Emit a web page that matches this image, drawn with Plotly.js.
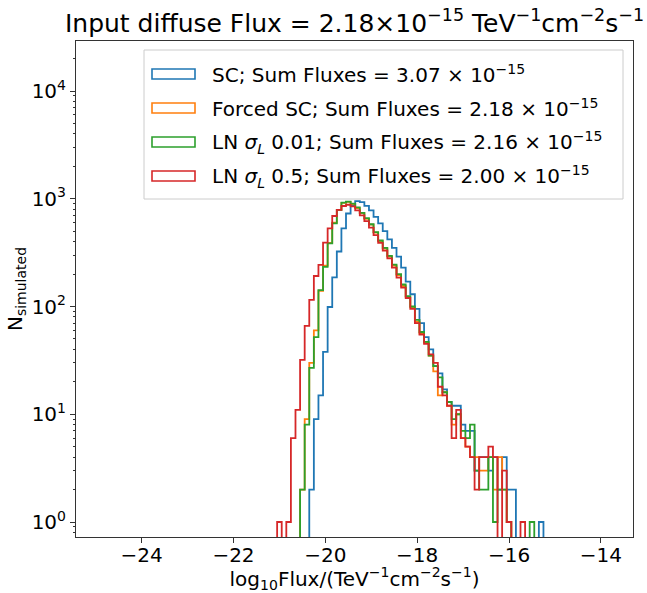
<!DOCTYPE html>
<html>
<head>
<meta charset="utf-8">
<script src="https://cdn.plot.ly/plotly-3.0.1.min.js"></script>
<style>html,body{margin:0;padding:0;background:#fff;}#chart{width:647px;height:593px;}</style>
</head>
<body>
<div id="chart"></div>
<script>
// ---- data: shared histogram bins (log10 flux) ----
const binStart = -21.05;
const binWidth = 0.1;

// counts per bin (58 bins)
const countsSC = [0,0,0,0,0,0,0,2,9,15,38,99,186,324,532,730,875,950,930,860,780,680,590,500,420,350,290,230,170,130,95,70,52,40,28,24,17,13,12,12,8,7,7,3,4,4,3,4,2,4,2,2,0,0,0,0,0,1];
const countsForced = [0,0,0,0,0,2,9,30,60,140,240,390,600,790,915,935,890,820,735,650,575,485,405,345,290,240,195,155,122,98,72,56,46,35,25,15,16,12,8,10,6,5,4,4,3,3,4,2,4,2,1,0,0,0,0,0,0,0];
const countsLN001 = [0,0,0,0,0,2,8,27,52,142,233,385,590,787,920,940,900,830,740,660,580,490,410,350,295,245,200,160,125,100,75,58,47,35,28,22,16,13,9,10,7,6,8,3,2,2,4,1,2,2,1,0,0,0,0,1,0,0];
const countsLN05 = [1,0,1,6,11,32,66,115,192,243,391,532,692,787,857,880,850,780,700,620,540,460,390,330,280,230,185,150,120,95,70,55,45,36,30,18,15,12,6,11,6,5,4,2,4,4,5,4,0,3,1,0,0,1,0,0,0,0];

const seriesNames = [
  "SC; Sum Fluxes = 3.07 × 10<sup>−15</sup>",
  "Forced SC; Sum Fluxes = 2.18 × 10<sup>−15</sup>",
  "LN <i>σ</i><sub><i>L</i></sub> 0.01; Sum Fluxes = 2.16 × 10<sup>−15</sup>",
  "LN <i>σ</i><sub><i>L</i></sub> 0.5; Sum Fluxes = 2.00 × 10<sup>−15</sup>"
];
const seriesCounts = [countsSC, countsForced, countsLN001, countsLN05];
const seriesColors = ["#1f77b4", "#ff7f0e", "#2ca02c", "#d62728"];

const yTickVals = [1, 10, 100, 1000, 10000];
const yTickText = ["10<sup>0</sup>", "10<sup>1</sup>", "10<sup>2</sup>", "10<sup>3</sup>", "10<sup>4</sup>"];
const xTickVals = [-24, -22, -20, -18, -16, -14];

// ---- build step outlines ----
const FLOOR = 1e-2; // zero counts drop below visible range
function stepTrace(counts, color, name) {
  const n = counts.length;
  const x = [binStart], y = [FLOOR];
  for (let i = 0; i < n; i++) {
    x.push(binStart + i * binWidth);
    y.push(counts[i] > 0 ? counts[i] : FLOOR);
  }
  x.push(binStart + n * binWidth);
  y.push(FLOOR);
  return {type: "scatter", mode: "lines", x: x, y: y, name: name,
          line: {shape: "hv", color: color, width: 1.8}, showlegend: false,
          hoverinfo: "skip"};
}
const traces = seriesCounts.map((c, i) => stepTrace(c, seriesColors[i], seriesNames[i]));

// minor ticks for log axis
const minorVals = [];
for (let e = -1; e <= 4; e++) for (let m = 2; m <= 9; m++) minorVals.push(m * Math.pow(10, e));

// ---- hand-drawn legend (matplotlib-like patches) ----
const W = 647, H = 593, ML = 76, MR = 14, MT = 41, MB = 56;
const PW = W - ML - MR, PH = H - MT - MB;
const px = v => (v - ML) / PW;
const py = v => (H - MB - v) / PH;
const legendRows = [74, 108, 142, 176];
const shapes = [{type: "rect", xref: "paper", yref: "paper",
  x0: px(144), x1: px(623), y0: py(199), y1: py(50),
  fillcolor: "rgba(255,255,255,0.8)", line: {color: "#cccccc", width: 1}, layer: "above"}];
const annotations = [];
legendRows.forEach((r, i) => {
  shapes.push({type: "rect", xref: "paper", yref: "paper",
    x0: px(152), x1: px(195), y0: py(r + 5), y1: py(r - 5),
    fillcolor: "rgba(0,0,0,0)", line: {color: seriesColors[i], width: 1.6}, layer: "above"});
  annotations.push({xref: "paper", yref: "paper", x: px(210), y: py(r),
    xanchor: "left", yanchor: "middle", showarrow: false, text: seriesNames[i],
    font: {family: "DejaVu Sans", size: 20, color: "#000"}});
});

const layout = {
  width: W, height: H,
  margin: {l: ML, r: MR, t: MT, b: MB, pad: 0},
  paper_bgcolor: "#fff", plot_bgcolor: "#fff",
  font: {family: "DejaVu Sans", color: "#000", size: 20},
  showlegend: false,
  title: {text: "Input diffuse Flux = 2.18×10<sup>−15</sup> TeV<sup>−1</sup>cm<sup>−2</sup>s<sup>−1</sup>",
          font: {family: "DejaVu Sans", size: 25, color: "#000"},
          x: (ML + PW / 2) / W, xanchor: "center", y: 1 - 23 / H, yanchor: "middle", yref: "container"},
  xaxis: {range: [-25.43, -13.3], tickmode: "array", tickvals: xTickVals,
          ticks: "outside", ticklen: 5, tickwidth: 1, tickcolor: "#333",
          ticklabelstandoff: -5,
          showline: true, linecolor: "#333", linewidth: 1, mirror: true,
          showgrid: false, zeroline: false,
          tickfont: {size: 20},
          title: {text: "log<sub>10</sub>Flux/(TeV<sup>−1</sup>cm<sup>−2</sup>s<sup>−1</sup>)", font: {size: 20}, standoff: 12}},
  yaxis: {type: "log", range: [-0.139, 4.464], tickmode: "array", tickvals: yTickVals, ticktext: yTickText,
          ticks: "outside", ticklen: 5, tickwidth: 1, tickcolor: "#333",
          minor: {tickmode: "array", tickvals: minorVals, ticks: "outside", ticklen: 2.5, tickcolor: "#333", showgrid: false},
          showline: true, linecolor: "#333", linewidth: 1, mirror: true,
          showgrid: false, zeroline: false,
          tickfont: {size: 20},
          title: {text: "N<sub>simulated</sub>", font: {size: 20}, standoff: 3}},
  shapes: shapes,
  annotations: annotations
};

Plotly.newPlot("chart", traces, layout, {staticPlot: true, displayModeBar: false});
</script>
</body>
</html>
